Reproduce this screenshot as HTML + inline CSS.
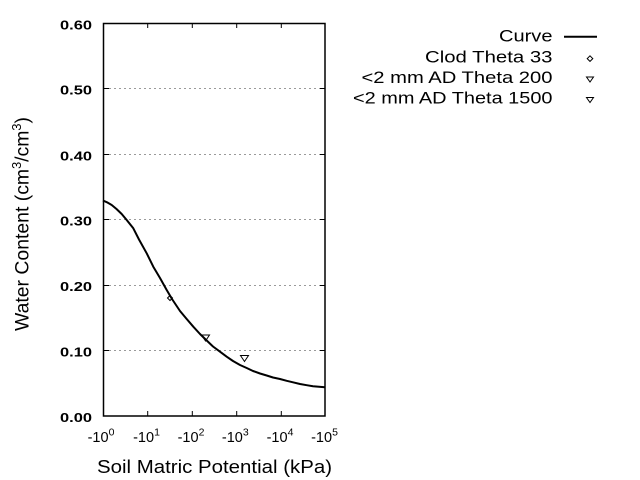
<!DOCTYPE html>
<html>
<head>
<meta charset="utf-8">
<style>
html,body{margin:0;padding:0;background:#fff;}
svg{display:block;}
text{font-family:"Liberation Sans",Arial,sans-serif;fill:#000;}
</style>
</head>
<body>
<svg width="640" height="480" viewBox="0 0 640 480" xmlns="http://www.w3.org/2000/svg">
<rect x="0" y="0" width="640" height="480" fill="#fff"/>

<!-- gridlines -->
<g stroke="#9a9a9a" stroke-width="1" stroke-dasharray="2,3">
<line x1="104" y1="88.5" x2="325" y2="88.5"/>
<line x1="104" y1="154.5" x2="325" y2="154.5"/>
<line x1="104" y1="219.5" x2="325" y2="219.5"/>
<line x1="104" y1="285.5" x2="325" y2="285.5"/>
<line x1="104" y1="350.5" x2="325" y2="350.5"/>
</g>

<!-- ticks -->
<g stroke="#000" stroke-width="1">
<line x1="147.7" y1="23" x2="147.7" y2="28"/>
<line x1="192.3" y1="23" x2="192.3" y2="28"/>
<line x1="236.7" y1="23" x2="236.7" y2="28"/>
<line x1="281.3" y1="23" x2="281.3" y2="28"/>
<line x1="147.7" y1="416" x2="147.7" y2="411"/>
<line x1="192.3" y1="416" x2="192.3" y2="411"/>
<line x1="236.7" y1="416" x2="236.7" y2="411"/>
<line x1="281.3" y1="416" x2="281.3" y2="411"/>
<line x1="103" y1="88.5" x2="109" y2="88.5"/>
<line x1="103" y1="154.5" x2="109" y2="154.5"/>
<line x1="103" y1="219.5" x2="109" y2="219.5"/>
<line x1="103" y1="285.5" x2="109" y2="285.5"/>
<line x1="103" y1="350.5" x2="109" y2="350.5"/>
<line x1="325" y1="88.5" x2="320" y2="88.5"/>
<line x1="325" y1="154.5" x2="320" y2="154.5"/>
<line x1="325" y1="219.5" x2="320" y2="219.5"/>
<line x1="325" y1="285.5" x2="320" y2="285.5"/>
<line x1="325" y1="350.5" x2="320" y2="350.5"/>
</g>

<!-- frame -->
<rect x="103.5" y="23.5" width="221.5" height="392.5" fill="none" stroke="#000" stroke-width="1.5"/>

<!-- curve -->
<polyline fill="none" stroke="#000" stroke-width="2" stroke-linejoin="round"
points="103,200.5 107,202.3 111.7,205 116.5,209 121.7,214 126.7,220 133.3,228.3 139,239.5 146.7,253.3 153.3,266.7 160,278 166.7,290 172,299 180,311 186.7,319 193.3,326.7 200,334 206.7,340.5 213,346.5 220,351.7 226.7,356.7 233,361 240,365 246.7,368 253,371 260,373.5 266.7,375.5 273,377.5 280,379 286.7,380.8 293,382.3 300,384 306.7,385.2 313,386.2 319,386.8 325,387.3"/>

<!-- data markers -->
<g fill="none" stroke="#000" stroke-width="1">
<polygon points="170,295.5 172.5,298 170,300.5 167.5,298"/>
<polygon points="201.5,335 209.5,335 205.5,341"/>
<polygon points="240.5,355.5 248.5,355.5 244.5,361.5"/>
</g>

<!-- y tick labels -->
<g font-size="13" font-weight="bold">
<text x="60" y="29.5" textLength="32" lengthAdjust="spacingAndGlyphs">0.60</text>
<text x="60" y="94.5" textLength="32" lengthAdjust="spacingAndGlyphs">0.50</text>
<text x="60" y="160.3" textLength="32" lengthAdjust="spacingAndGlyphs">0.40</text>
<text x="60" y="225.3" textLength="32" lengthAdjust="spacingAndGlyphs">0.30</text>
<text x="60" y="291" textLength="32" lengthAdjust="spacingAndGlyphs">0.20</text>
<text x="60" y="356.3" textLength="32" lengthAdjust="spacingAndGlyphs">0.10</text>
<text x="60" y="421.8" textLength="32" lengthAdjust="spacingAndGlyphs">0.00</text>
</g>

<!-- x tick labels -->
<g font-size="14.5" text-anchor="middle">
<text x="101" y="442">-10<tspan font-size="10.5" dy="-6.5">0</tspan></text>
<text x="146.5" y="442">-10<tspan font-size="10.5" dy="-6.5">1</tspan></text>
<text x="191" y="442">-10<tspan font-size="10.5" dy="-6.5">2</tspan></text>
<text x="235.3" y="442">-10<tspan font-size="10.5" dy="-6.5">3</tspan></text>
<text x="280" y="442">-10<tspan font-size="10.5" dy="-6.5">4</tspan></text>
<text x="324.5" y="442">-10<tspan font-size="10.5" dy="-6.5">5</tspan></text>
</g>

<!-- axis titles -->
<text x="97" y="473" font-size="18" textLength="235" lengthAdjust="spacingAndGlyphs">Soil Matric Potential (kPa)</text>
<text transform="translate(28.5,331) rotate(-90)" font-size="19" textLength="214" lengthAdjust="spacingAndGlyphs">Water Content (cm<tspan font-size="12.5" dy="-7.5">3</tspan><tspan dy="7.5">/cm</tspan><tspan font-size="12.5" dy="-7.5">3</tspan><tspan dy="7.5">)</tspan></text>

<!-- legend -->
<g font-size="17">
<text x="499" y="41.7" textLength="53.5" lengthAdjust="spacingAndGlyphs">Curve</text>
<text x="425" y="62.7" textLength="127.5" lengthAdjust="spacingAndGlyphs">Clod Theta 33</text>
<text x="361.5" y="83" textLength="191" lengthAdjust="spacingAndGlyphs">&lt;2 mm AD Theta 200</text>
<text x="353" y="103.5" textLength="199.5" lengthAdjust="spacingAndGlyphs">&lt;2 mm AD Theta 1500</text>
</g>
<line x1="564" y1="36.7" x2="597" y2="36.7" stroke="#000" stroke-width="2"/>
<g fill="none" stroke="#000" stroke-width="1">
<polygon points="590,55.8 592.8,58.6 590,61.4 587.2,58.6"/>
<polygon points="586.5,77 593.5,77 590,82"/>
<polygon points="586.5,97.5 593.5,97.5 590,102.5"/>
</g>
</svg>
</body>
</html>
